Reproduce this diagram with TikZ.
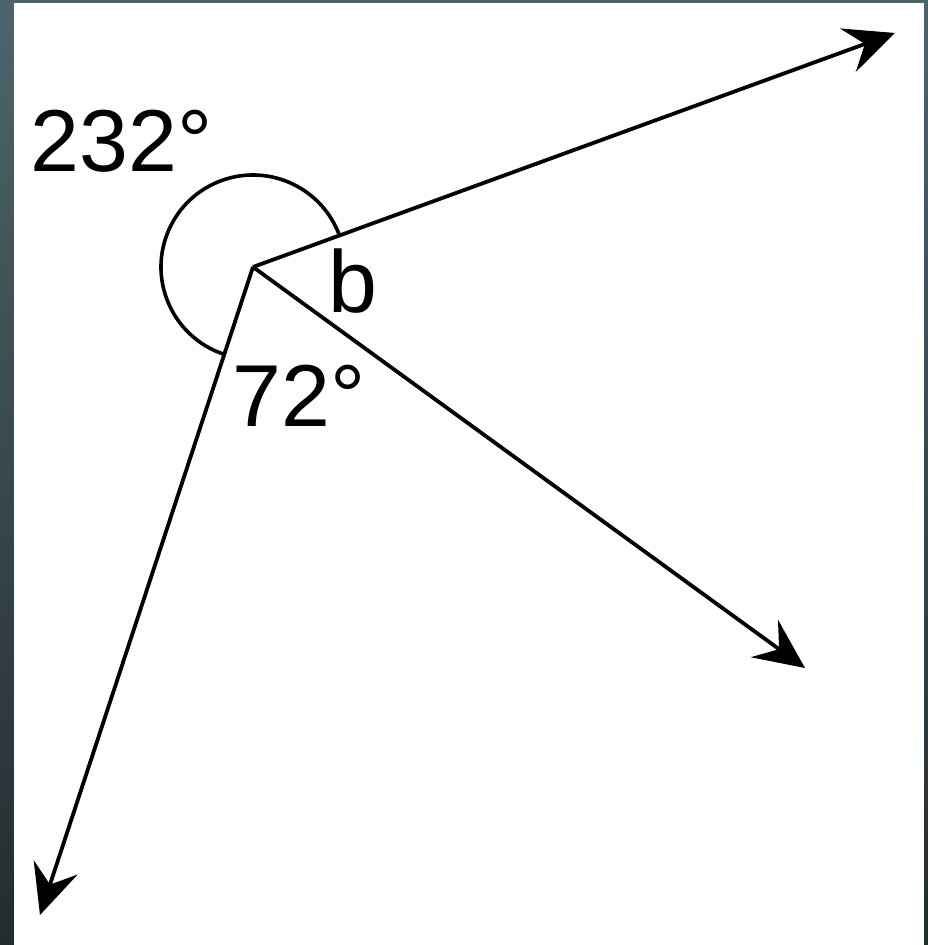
\documentclass[tikz,border=0pt]{standalone}
\usepackage{fontspec}
\setmainfont{Liberation Sans}
\usepackage{tikz}
\usetikzlibrary{arrows.meta}
\definecolor{slatetop}{RGB}{78,100,108}
\definecolor{slatebot}{RGB}{34,44,48}

\begin{document}
\begin{tikzpicture}[
  x=0.01cm, y=0.01cm,
  ray/.style ={-{Stealth[length=5mm, width=4.6mm, inset=1.8mm]}, line width=0.38mm, draw=black},
  turn/.style={line width=0.36mm, draw=black},
  lbl/.style ={font=\fontsize{25}{30}\selectfont, inner sep=0pt, anchor=base west},
]
% ---------------- frame ----------------
\fill[top color=slatetop, bottom color=slatebot] (0,0) rectangle (928,945);
\fill[white] (14,0) rectangle (924,942);
\useasboundingbox (0,0) rectangle (928,945);
% ---------------- vertex and ray ends ----------------
\coordinate (o)     at (253,678);
\coordinate (tipne) at (895,912);
\coordinate (tipse) at (805,277);
\coordinate (tipsw) at (40,30);
% ---------------- rays ----------------
\draw[ray] (o) -- (tipne);
\draw[ray] (o) -- (tipse);
\draw[ray] (o) -- (tipsw);
% ---------------- reflex angle mark ----------------
\draw[turn] (o) ++(20:92) arc[start angle=20, end angle=252, radius=92];
% ---------------- labels ----------------
\node[lbl] (big)   at (30,773)  {232°};
\node[lbl] (b)     at (328,632) {b};
\node[lbl] (small) at (232,518) {72°};
\end{tikzpicture}
\end{document}
